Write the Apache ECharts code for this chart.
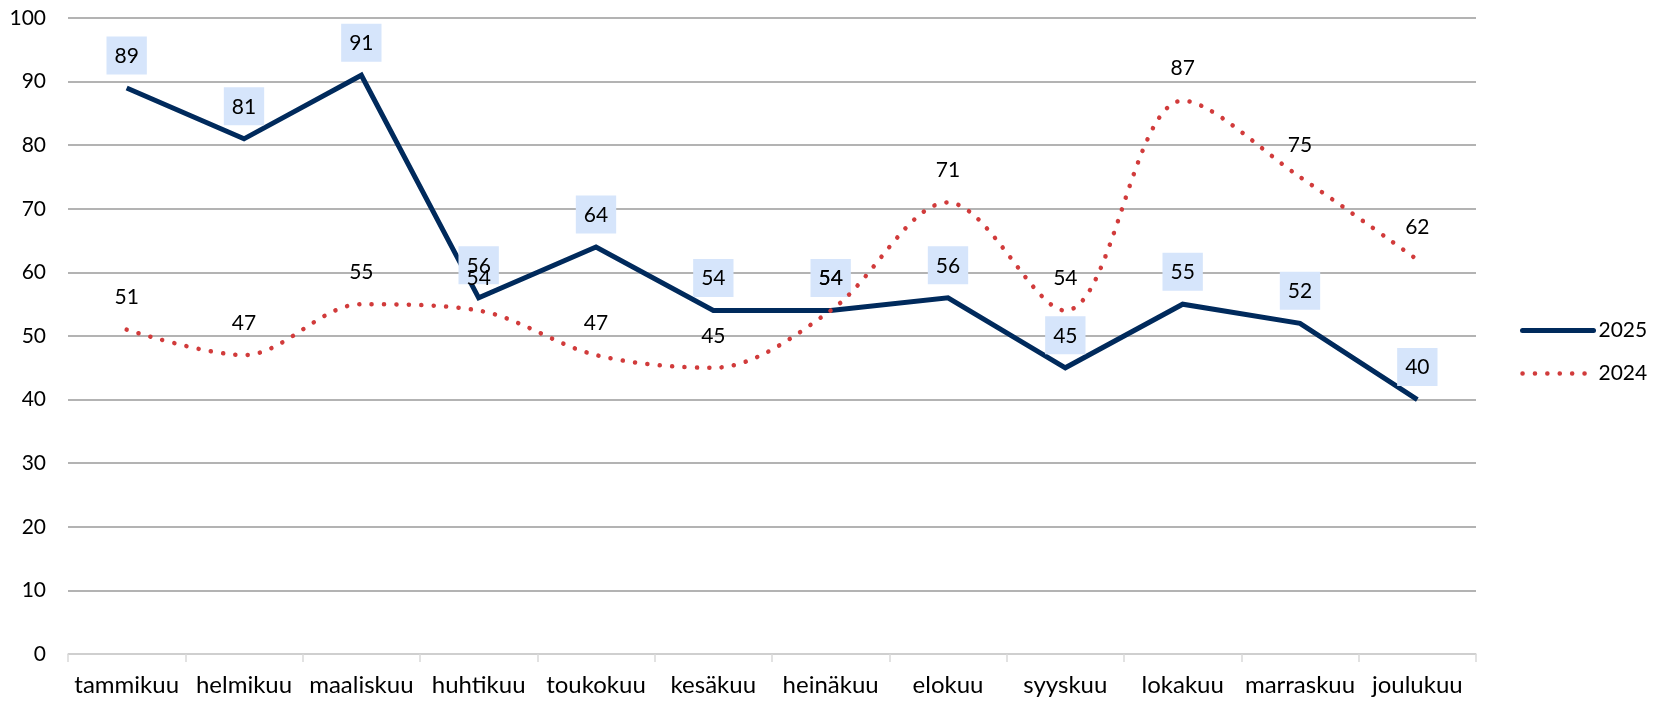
<!DOCTYPE html>
<html>
<head>
<meta charset="utf-8">
<script src="https://cdn.jsdelivr.net/npm/echarts@6/dist/echarts.min.js"></script>
<style>
  html, body { margin: 0; padding: 0; background: #fff; }
  #chart { width: 1663px; height: 702px; }
</style>
</head>
<body>
<div id="chart"></div>
<script>
const months = ['tammikuu', 'helmikuu', 'maaliskuu', 'huhtikuu', 'toukokuu', 'kesäkuu',
  'heinäkuu', 'elokuu', 'syyskuu', 'lokakuu', 'marraskuu', 'joulukuu'];
const values2025 = [89, 81, 91, 56, 64, 54, 54, 56, 45, 55, 52, 40];
const values2024 = [51, 47, 55, 54, 47, 45, 54, 71, 54, 87, 75, 62];
const yTicks = { min: 0, max: 100, interval: 10 };

const font = 'Lato';
const navy = '#002a5c';
const red = '#d13b3b';
const chart = echarts.init(document.getElementById('chart'));

// labels are tied to symbols, so keep a tiny transparent symbol on each point
const option = {
  animation: false,
  textStyle: { fontFamily: font },
  grid: { left: 68, right: 187, top: 18, bottom: 48 },
  legend: {
    orient: 'vertical',
    left: 1515,
    top: 315,
    itemWidth: 71,
    itemHeight: 24,
    itemGap: 22,
    itemStyle: { opacity: 0 },
    textStyle: { fontFamily: font, fontSize: 21, color: '#000' },
    data: [
      { name: '2025', lineStyle: { width: 5, color: navy, cap: 'round' } },
      { name: '2024', lineStyle: { width: 4.5, color: red, type: [0.1, 12.3], cap: 'round' } }
    ]
  },
  xAxis: {
    type: 'category',
    data: months,
    boundaryGap: true,
    axisLine: { lineStyle: { color: '#d9d9d9', width: 1.5 } },
    axisTick: { show: true, length: 8, lineStyle: { color: '#d9d9d9', width: 1.5 } },
    axisLabel: { fontFamily: font, fontSize: 24, color: '#000', margin: 19, interval: 0 }
  },
  yAxis: {
    type: 'value',
    min: yTicks.min,
    max: yTicks.max,
    interval: yTicks.interval,
    axisLine: { show: false },
    axisTick: { show: false },
    axisLabel: { fontFamily: font, fontSize: 21, color: '#000', margin: 22 },
    splitLine: { lineStyle: { color: '#9a9a9a', width: 1.5 } }
  },
  series: [
    {
      name: '2025',
      type: 'line',
      data: values2025,
      symbol: 'circle',
      symbolSize: 1,
      showSymbol: true,
      lineStyle: { color: navy, width: 5, join: 'miter' },
      itemStyle: { color: 'rgba(0,0,0,0)' },
      label: {
        show: true,
        position: 'top',
        distance: 13,
        fontFamily: font,
        fontSize: 21,
        color: '#000',
        backgroundColor: '#d6e5fb',
        padding: [9, 8, 8, 8]
      },
      labelLayout: { hideOverlap: false },
      z: 3
    },
    {
      name: '2024',
      type: 'line',
      data: values2024,
      symbol: 'circle',
      symbolSize: 1,
      showSymbol: true,
      smooth: 0.33,
      lineStyle: { color: red, width: 4.5, type: [0.1, 12.3], cap: 'round' },
      itemStyle: { color: 'rgba(0,0,0,0)' },
      label: {
        show: true,
        position: 'top',
        distance: 13,
        fontFamily: font,
        fontSize: 21,
        color: '#000',
        padding: [9, 8, 8, 8]
      },
      labelLayout: { hideOverlap: false },
      z: 4
    }
  ]
};

chart.setOption(option);
</script>
</body>
</html>
